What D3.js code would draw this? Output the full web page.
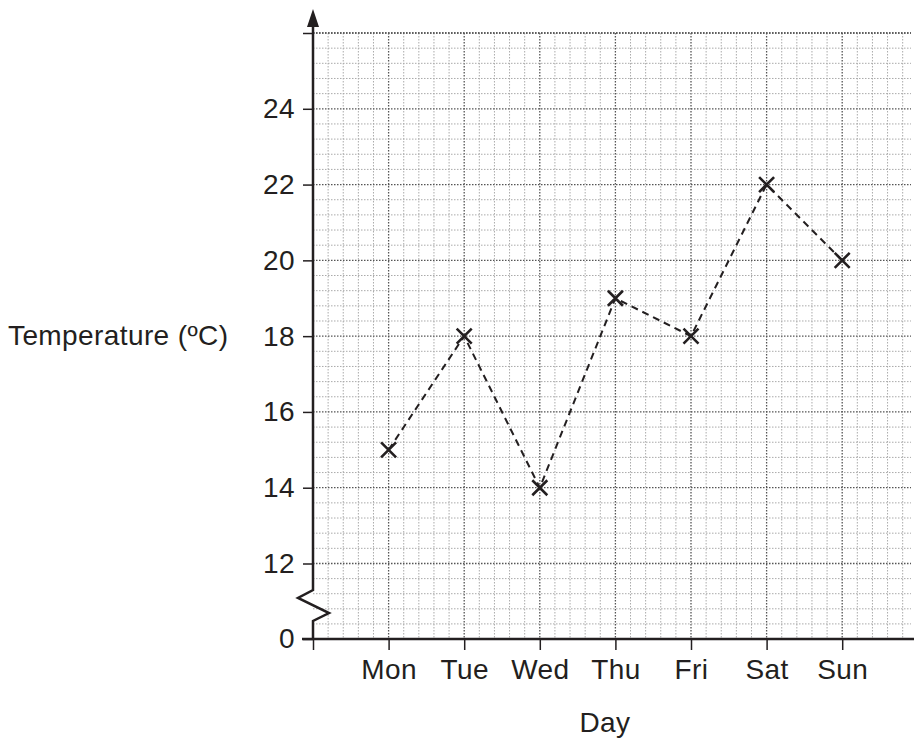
<!DOCTYPE html>
<html>
<head>
<meta charset="utf-8">
<script src="https://cdn.jsdelivr.net/npm/d3@7"></script>
<style>
  body { margin: 0; background: #fff; }
  text { font-family: "Liberation Sans", Arial, sans-serif; fill: #231f20; letter-spacing: 0.4px; }
</style>
</head>
<body>
<svg id="chart" width="914" height="745"></svg>
<script>
const days = ["Mon", "Tue", "Wed", "Thu", "Fri", "Sat", "Sun"];
const temps = [15, 18, 14, 19, 18, 22, 20];
const yTicks = [0, 12, 14, 16, 18, 20, 22, 24, 26];

const ink = "#231f20";
const fs = 28;
const svg = d3.select("#chart");

// x: day index, 0 at the origin, Mon = 1
const x = d3.scaleLinear().domain([0, 1]).range([313, 388.6]);
// y: broken axis, 0..12 squeezed into the bottom five cells
const y = d3.scaleLinear().domain([0, 12, 26]).range([639, 563.5, 33]);

// grid
const vLines = d3.range(1, 40).map(k => k * 0.2);
const hLines = d3.range(1, 5).map(k => k * 2.4)
  .concat(d3.range(0, 36).map(k => 12 + k * 0.4));
const isMajor = d => d >= 12 && Math.abs(d / 2 - Math.round(d / 2)) < 1e-6;

const grid = svg.append("g");
grid.selectAll("line.v").data(vLines).enter().append("line")
  .attr("x1", d => x(d)).attr("x2", d => x(d))
  .attr("y1", y(26)).attr("y2", y(0))
  .attr("stroke", (d, i) => (i + 1) % 5 === 0 ? "#555" : "#aaa")
  .attr("stroke-width", (d, i) => (i + 1) % 5 === 0 ? 1.3 : 1)
  .attr("stroke-dasharray", "1.5,1.5");
grid.selectAll("line.h").data(hLines.concat([26])).enter().append("line")
  .attr("x1", x(0)).attr("x2", 911)
  .attr("y1", d => y(d)).attr("y2", d => y(d))
  .attr("stroke", d => isMajor(d) ? "#555" : "#aaa")
  .attr("stroke-width", d => isMajor(d) ? 1.3 : 1)
  .attr("stroke-dasharray", "1.5,1.5");

// y axis with ticks and labels
const yAxis = d3.axisLeft(y).tickValues(yTicks)
  .tickFormat(d => d === 26 ? "" : d).tickSize(10).tickPadding(8);
const gy = svg.append("g").attr("transform", `translate(${x(0)},0)`).call(yAxis);
gy.select(".domain").remove();
gy.selectAll(".tick line").attr("stroke", ink).attr("stroke-width", 1.5);
gy.selectAll(".tick text").attr("font-size", fs).attr("font-family", "Liberation Sans, Arial, sans-serif").attr("fill", ink);

// y axis line with break
const x0 = x(0);
svg.append("path")
  .attr("d", `M${x0},24 L${x0},590 L${x0 - 15},598 L${x0 + 16},613 L${x0},621 L${x0},${y(0) + 1}`)
  .attr("fill", "none").attr("stroke", ink).attr("stroke-width", 2.5).attr("stroke-linejoin", "miter");
svg.append("path")
  .attr("d", `M${x0},9 L${x0 - 6},27 L${x0 + 6},27 Z`)
  .attr("fill", ink);

// x axis
const xAxis = d3.axisBottom(x).tickValues(d3.range(0, 8))
  .tickFormat(d => d === 0 ? "" : days[d - 1]).tickSize(11).tickPadding(9);
const gx = svg.append("g").attr("transform", `translate(0,${y(0)})`).call(xAxis);
gx.select(".domain").remove();
gx.selectAll(".tick line").attr("stroke", ink).attr("stroke-width", 1.5);
gx.selectAll(".tick text").attr("font-size", fs).attr("font-family", "Liberation Sans, Arial, sans-serif").attr("fill", ink);
svg.append("line")
  .attr("x1", 302).attr("x2", 914).attr("y1", y(0)).attr("y2", y(0))
  .attr("stroke", ink).attr("stroke-width", 2.5);

// axis titles
svg.append("text").attr("x", 8).attr("y", 345).attr("font-size", fs).text("Temperature (ºC)");
svg.append("text").attr("x", 605).attr("y", 732).attr("font-size", fs)
  .attr("text-anchor", "middle").text("Day");

// dashed line
const pts = temps.map((t, i) => [x(i + 1), y(t)]);
svg.append("path")
  .attr("d", d3.line()(pts))
  .attr("fill", "none").attr("stroke", ink).attr("stroke-width", 2)
  .attr("stroke-dasharray", "7,5");

// crosses
const s = 7.5;
svg.selectAll("path.cross").data(pts).enter().append("path")
  .attr("d", d => `M${d[0] - s},${d[1] - s}L${d[0] + s},${d[1] + s}M${d[0] - s},${d[1] + s}L${d[0] + s},${d[1] - s}`)
  .attr("stroke", ink).attr("stroke-width", 2.6);
</script>
</body>
</html>
